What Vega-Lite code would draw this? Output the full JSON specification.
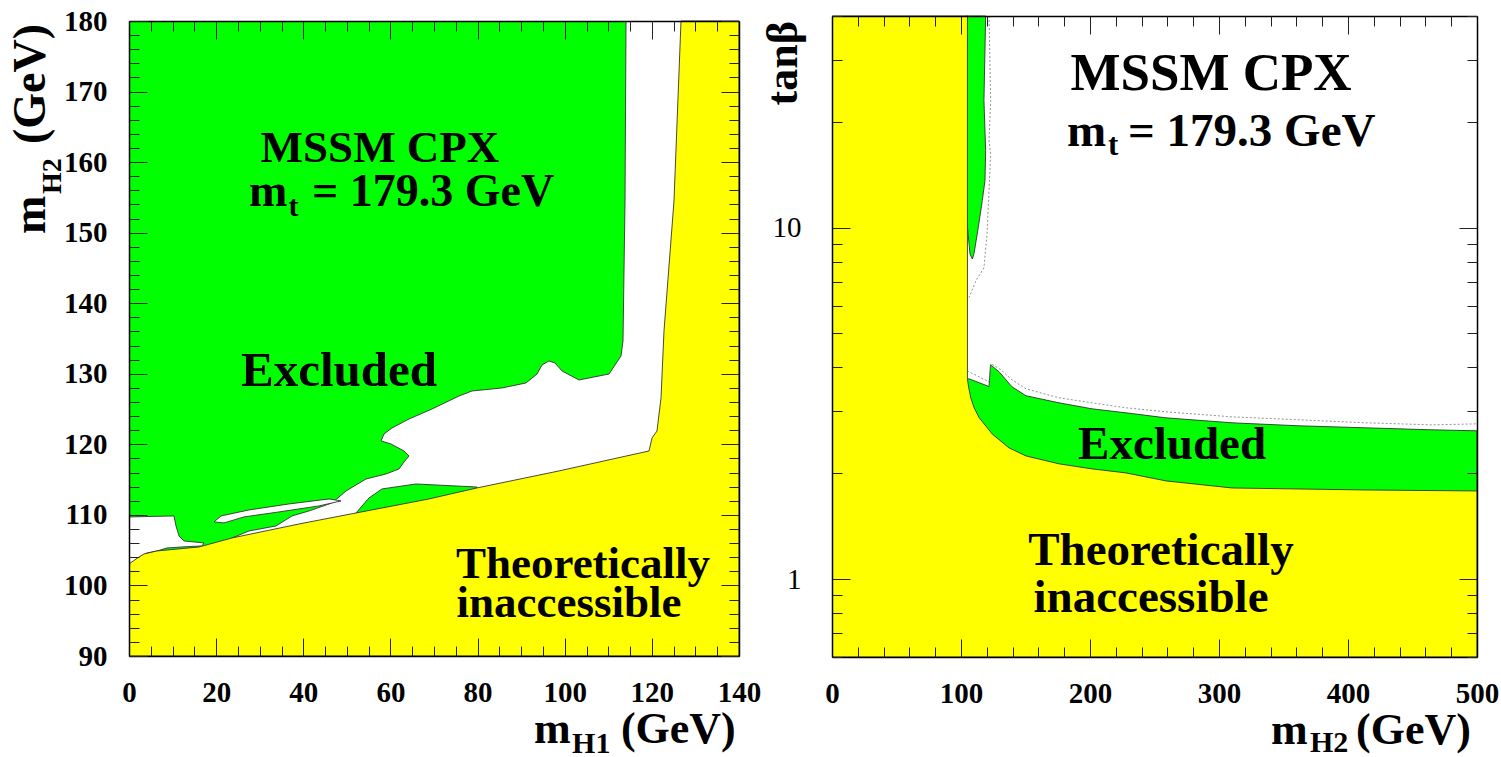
{
  "$schema": "https://vega.github.io/schema/vega-lite/v6.json",
  "padding": {"left": 7, "top": 7, "right": 5, "bottom": 5},
  "bounds": "flush",
  "spacing": 93,
  "background": "white",
  "config": {"view": {"stroke": null}, "axis": {"zindex": 1, "grid": false}, "text": {"font": "Liberation Serif"}},
  "datasets": {
    "L": [
      {"p":"G","i":0,"x":0,"y":90},{"p":"G","i":1,"x":140,"y":90},{"p":"G","i":2,"x":140,"y":180},{"p":"G","i":3,"x":0,"y":180},
      {"p":"W","i":0,"x":114.07,"y":180},{"p":"W","i":1,"x":113.84,"y":154.49},{"p":"W","i":2,"x":113.38,"y":134.65},{"p":"W","i":3,"x":112.92,"y":132.52},{"p":"W","i":4,"x":110.17,"y":129.97},{"p":"W","i":5,"x":103.28,"y":129.12},{"p":"W","i":6,"x":99.38,"y":130.4},{"p":"W","i":7,"x":97.77,"y":131.53},{"p":"W","i":8,"x":96.39,"y":131.82},{"p":"W","i":9,"x":94.79,"y":131.25},{"p":"W","i":10,"x":93.64,"y":129.97},{"p":"W","i":11,"x":91.12,"y":128.7},{"p":"W","i":12,"x":85.61,"y":127.99},{"p":"W","i":13,"x":78.72,"y":127.56},{"p":"W","i":14,"x":75.74,"y":126.85},{"p":"W","i":15,"x":69.54,"y":125.01},{"p":"W","i":16,"x":64.26,"y":123.59},{"p":"W","i":17,"x":60.36,"y":122.32},{"p":"W","i":18,"x":58.53,"y":121.47},{"p":"W","i":19,"x":57.84,"y":120.48},{"p":"W","i":20,"x":60.13,"y":120.05},{"p":"W","i":21,"x":63.12,"y":119.06},{"p":"W","i":22,"x":64.26,"y":118.35},{"p":"W","i":23,"x":63.12,"y":117.5},{"p":"W","i":24,"x":61.97,"y":116.51},{"p":"W","i":25,"x":58.99,"y":115.8},{"p":"W","i":26,"x":54.4,"y":115.09},{"p":"W","i":27,"x":49.8,"y":113.39},{"p":"W","i":28,"x":46.59,"y":111.69},{"p":"W","i":29,"x":41.31,"y":110.56},{"p":"W","i":30,"x":37.41,"y":109.85},{"p":"W","i":31,"x":33.74,"y":108.43},{"p":"W","i":32,"x":27.54,"y":107.72},{"p":"W","i":33,"x":23.64,"y":106.73},{"p":"W","i":34,"x":20.66,"y":105.45},{"p":"W","i":35,"x":20.66,"y":96},{"p":"W","i":36,"x":135,"y":96},{"p":"W","i":37,"x":135,"y":180},
      {"p":"WL","i":0,"x":0,"y":109.71},{"p":"WL","i":1,"x":10.33,"y":109.85},{"p":"WL","i":2,"x":10.79,"y":108.43},{"p":"WL","i":3,"x":11.48,"y":107.02},{"p":"WL","i":4,"x":12.62,"y":106.31},{"p":"WL","i":5,"x":17.21,"y":106.02},{"p":"WL","i":6,"x":16.75,"y":105.6},{"p":"WL","i":7,"x":11.93,"y":105.45},{"p":"WL","i":8,"x":8.72,"y":105.31},{"p":"WL","i":9,"x":6.43,"y":104.89},{"p":"WL","i":10,"x":4.13,"y":104.6},{"p":"WL","i":11,"x":2.98,"y":104.18},{"p":"WL","i":12,"x":0,"y":102.76},
      {"p":"E","i":0,"x":19.51,"y":109.0},{"p":"E","i":1,"x":21.12,"y":109.85},{"p":"E","i":2,"x":27.54,"y":110.7},{"p":"E","i":3,"x":36.72,"y":111.55},{"p":"E","i":4,"x":45.9,"y":112.26},{"p":"E","i":5,"x":48.66,"y":111.98},{"p":"E","i":6,"x":43.61,"y":111.27},{"p":"E","i":7,"x":34.43,"y":110.42},{"p":"E","i":8,"x":26.39,"y":109.71},{"p":"E","i":9,"x":21.8,"y":108.86},{"p":"E","i":10,"x":19.51,"y":109.0},
      {"p":"GS","i":0,"x":52.1,"y":110.27},{"p":"GS","i":1,"x":55.08,"y":112.4},{"p":"GS","i":2,"x":58.07,"y":113.68},{"p":"GS","i":3,"x":65.87,"y":114.38},{"p":"GS","i":4,"x":79.87,"y":113.95},{"p":"GS","i":5,"x":79.87,"y":113.0},{"p":"GS","i":6,"x":52.1,"y":109.5},
      {"p":"Y","i":0,"x":0,"y":103.04},{"p":"Y","i":1,"x":2.3,"y":104.04},{"p":"Y","i":2,"x":3.44,"y":104.46},{"p":"Y","i":3,"x":6.43,"y":104.89},{"p":"Y","i":4,"x":16.07,"y":105.45},{"p":"Y","i":5,"x":23.64,"y":106.73},{"p":"Y","i":6,"x":39.02,"y":108.71},{"p":"Y","i":7,"x":52.1,"y":110.27},{"p":"Y","i":8,"x":68.85,"y":112.26},{"p":"Y","i":9,"x":79.87,"y":113.82},{"p":"Y","i":10,"x":98.69,"y":116.23},{"p":"Y","i":11,"x":119.35,"y":119.06},{"p":"Y","i":12,"x":120.04,"y":120.9},{"p":"Y","i":13,"x":121.18,"y":121.89},{"p":"Y","i":14,"x":122.1,"y":126.57},{"p":"Y","i":15,"x":122.79,"y":136.07},{"p":"Y","i":16,"x":125.08,"y":154.49},{"p":"Y","i":17,"x":126.69,"y":180},{"p":"Y","i":18,"x":140,"y":180},{"p":"Y","i":19,"x":140,"y":90},{"p":"Y","i":20,"x":0,"y":90}
    ],
    "R": [
      {"p":"GB","i":0,"x":104,"y":3.713},{"p":"GB","i":1,"x":106.2,"y":3.713},{"p":"GB","i":2,"x":120.2,"y":3.548},{"p":"GB","i":3,"x":121.7,"y":3.524},{"p":"GB","i":4,"x":122.9,"y":4.072},{"p":"GB","i":5,"x":129.5,"y":3.889},{"p":"GB","i":6,"x":139.5,"y":3.524},{"p":"GB","i":7,"x":150.4,"y":3.322},{"p":"GB","i":8,"x":176.0,"y":3.172},{"p":"GB","i":9,"x":201.6,"y":3.05},{"p":"GB","i":10,"x":227.9,"y":2.971},{"p":"GB","i":11,"x":258.9,"y":2.875},{"p":"GB","i":12,"x":310.1,"y":2.783},{"p":"GB","i":13,"x":362.0,"y":2.729},{"p":"GB","i":14,"x":414.0,"y":2.693},{"p":"GB","i":15,"x":465.1,"y":2.658},{"p":"GB","i":16,"x":500,"y":2.641},{"p":"GB","i":17,"x":500,"y":1.5},{"p":"GB","i":18,"x":104,"y":1.5},
      {"p":"GV","i":0,"x":104,"y":40},{"p":"GV","i":1,"x":119.1,"y":40},{"p":"GV","i":2,"x":117.8,"y":23.0},{"p":"GV","i":3,"x":119.1,"y":16.58},{"p":"GV","i":4,"x":118.6,"y":13.61},{"p":"GV","i":5,"x":116.5,"y":11.94},{"p":"GV","i":6,"x":113.4,"y":10.02},{"p":"GV","i":7,"x":110.1,"y":8.43},{"p":"GV","i":8,"x":108.8,"y":8.14},{"p":"GV","i":9,"x":107.0,"y":8.4},{"p":"GV","i":10,"x":105.5,"y":9.6},{"p":"GV","i":11,"x":104,"y":11},
      {"p":"D1","i":0,"x":121.7,"y":40},{"p":"D1","i":1,"x":123.0,"y":23.0},{"p":"D1","i":2,"x":121.7,"y":17.7},{"p":"D1","i":3,"x":123.0,"y":16.25},{"p":"D1","i":4,"x":120.2,"y":9.61},{"p":"D1","i":5,"x":117.8,"y":7.69},{"p":"D1","i":6,"x":111.6,"y":7.06},{"p":"D1","i":7,"x":106.2,"y":6.32},
      {"p":"D2","i":0,"x":104.7,"y":3.914},{"p":"D2","i":1,"x":121.7,"y":3.641},{"p":"D2","i":2,"x":123.3,"y":4.098},{"p":"D2","i":3,"x":131.0,"y":3.939},{"p":"D2","i":4,"x":139.5,"y":3.689},{"p":"D2","i":5,"x":150.4,"y":3.477},{"p":"D2","i":6,"x":176.0,"y":3.279},{"p":"D2","i":7,"x":201.6,"y":3.172},{"p":"D2","i":8,"x":227.9,"y":3.071},{"p":"D2","i":9,"x":258.9,"y":2.991},{"p":"D2","i":10,"x":310.1,"y":2.894},{"p":"D2","i":11,"x":362.0,"y":2.838},{"p":"D2","i":12,"x":414.0,"y":2.783},{"p":"D2","i":13,"x":465.1,"y":2.746},{"p":"D2","i":14,"x":500,"y":2.764},
      {"p":"Y","i":0,"x":0,"y":40},{"p":"Y","i":1,"x":105,"y":40},{"p":"Y","i":2,"x":105,"y":3.7},{"p":"Y","i":3,"x":106,"y":3.5},{"p":"Y","i":4,"x":107.5,"y":3.285},{"p":"Y","i":5,"x":110.1,"y":3.076},{"p":"Y","i":6,"x":114,"y":2.881},{"p":"Y","i":7,"x":124.3,"y":2.584},{"p":"Y","i":8,"x":137.2,"y":2.362},{"p":"Y","i":9,"x":150.4,"y":2.24},{"p":"Y","i":10,"x":176,"y":2.127},{"p":"Y","i":11,"x":201.6,"y":2.058},{"p":"Y","i":12,"x":227.9,"y":2.004},{"p":"Y","i":13,"x":258.9,"y":1.902},{"p":"Y","i":14,"x":310.1,"y":1.816},{"p":"Y","i":15,"x":362,"y":1.804},{"p":"Y","i":16,"x":414,"y":1.792},{"p":"Y","i":17,"x":500,"y":1.781},{"p":"Y","i":18,"x":500,"y":0.6},{"p":"Y","i":19,"x":0,"y":0.6}
    ]
  },
  "hconcat": [
    {
      "width": 610,
      "height": 640,
      "resolve": {"axis": {"x": "independent", "y": "independent"}},
      "layer": [
        {
          "data": {"name": "L"},
          "transform": [{"filter": "datum.p === 'G'"}],
          "mark": {"type": "line", "filled": true, "fill": "#00ff00", "strokeWidth": 0},
          "encoding": {
            "x": {"field": "x", "type": "quantitative", "scale": {"domain": [0, 140], "nice": false, "zero": false},
              "axis": {"orient": "bottom", "zindex": 2, "values": [0, 20, 40, 60, 80, 100, 120, 140], "ticks": false, "domain": true, "domainColor": "#000000", "domainWidth": 1.5, "labelFont": "Liberation Serif", "labelFontWeight": "bold", "labelFontSize": 29, "labelColor": "#000000", "labelPadding": 22, "labelFlush": false, "labelOverlap": false, "title": null}},
            "y": {"field": "y", "type": "quantitative", "scale": {"domain": [90, 180], "range": [640, 5], "nice": false, "zero": false},
              "axis": {"orient": "left", "zindex": 2, "values": [90, 100, 110, 120, 130, 140, 150, 160, 170, 180], "ticks": false, "domain": true, "domainColor": "#000000", "domainWidth": 1.5, "labelFont": "Liberation Serif", "labelFontWeight": "bold", "labelFontSize": 29, "labelColor": "#000000", "labelPadding": 22, "labelFlush": false, "labelOverlap": false, "title": null}},
            "order": {"field": "i", "type": "quantitative"}
          }
        },
        {
          "data": {"name": "L"},
          "transform": [{"filter": "datum.p === 'W'"}],
          "mark": {"type": "line", "filled": true, "fill": "#ffffff", "stroke": "#333333", "strokeWidth": 0.9, "strokeJoin": "round"},
          "encoding": {
            "x": {"field": "x", "type": "quantitative", "scale": {"domain": [0, 140], "nice": false, "zero": false},
              "axis": {"orient": "bottom", "zindex": 2, "values": [0, 20, 40, 60, 80, 100, 120, 140], "labels": false, "domain": false, "ticks": true, "tickSize": -18, "tickColor": "#222222", "tickWidth": 1, "title": null}},
            "y": {"field": "y", "type": "quantitative", "scale": {"domain": [90, 180], "range": [640, 5], "nice": false, "zero": false},
              "axis": {"orient": "left", "zindex": 2, "values": [90, 100, 110, 120, 130, 140, 150, 160, 170, 180], "labels": false, "domain": false, "ticks": true, "tickSize": -18, "tickColor": "#222222", "tickWidth": 1, "title": null}},
            "order": {"field": "i", "type": "quantitative"}
          }
        },
        {
          "data": {"name": "L"},
          "transform": [{"filter": "datum.p === 'WL'"}],
          "mark": {"type": "line", "filled": true, "fill": "#ffffff", "stroke": "#333333", "strokeWidth": 0.9, "strokeJoin": "round"},
          "encoding": {
            "x": {"field": "x", "type": "quantitative", "scale": {"domain": [0, 140], "nice": false, "zero": false},
              "axis": {"orient": "bottom", "zindex": 2, "values": [5, 10, 15, 25, 30, 35, 45, 50, 55, 65, 70, 75, 85, 90, 95, 105, 110, 115, 125, 130, 135], "labels": false, "domain": false, "ticks": true, "tickSize": -10, "tickColor": "#222222", "tickWidth": 1, "title": null}},
            "y": {"field": "y", "type": "quantitative", "scale": {"domain": [90, 180], "range": [640, 5], "nice": false, "zero": false},
              "axis": {"orient": "left", "zindex": 2, "values": [92, 94, 96, 98, 102, 104, 106, 108, 112, 114, 116, 118, 122, 124, 126, 128, 132, 134, 136, 138, 142, 144, 146, 148, 152, 154, 156, 158, 162, 164, 166, 168, 172, 174, 176, 178], "labels": false, "domain": false, "ticks": true, "tickSize": -10, "tickColor": "#222222", "tickWidth": 1, "title": null}},
            "order": {"field": "i", "type": "quantitative"}
          }
        },
        {
          "data": {"name": "L"},
          "transform": [{"filter": "datum.p === 'E'"}],
          "mark": {"type": "line", "filled": true, "fill": "#ffffff", "stroke": "#333333", "strokeWidth": 0.9, "strokeJoin": "round"},
          "encoding": {
            "x": {"field": "x", "type": "quantitative", "scale": {"domain": [0, 140], "nice": false, "zero": false},
              "axis": {"orient": "top", "zindex": 2, "offset": -5, "values": [0, 20, 40, 60, 80, 100, 120, 140], "labels": false, "domain": true, "domainColor": "#000000", "domainWidth": 1.5, "ticks": true, "tickSize": -18, "tickColor": "#222222", "tickWidth": 1, "title": null}},
            "y": {"field": "y", "type": "quantitative", "scale": {"domain": [90, 180], "range": [640, 5], "nice": false, "zero": false},
              "axis": {"orient": "right", "zindex": 2, "values": [90, 100, 110, 120, 130, 140, 150, 160, 170, 180], "labels": false, "domain": true, "domainColor": "#000000", "domainWidth": 1.5, "ticks": true, "tickSize": -18, "tickColor": "#222222", "tickWidth": 1, "title": null}},
            "order": {"field": "i", "type": "quantitative"}
          }
        },
        {
          "data": {"name": "L"},
          "transform": [{"filter": "datum.p === 'GS'"}],
          "mark": {"type": "line", "filled": true, "fill": "#00ff00", "stroke": "#333333", "strokeWidth": 0.9, "strokeJoin": "round"},
          "encoding": {
            "x": {"field": "x", "type": "quantitative", "scale": {"domain": [0, 140], "nice": false, "zero": false},
              "axis": {"orient": "top", "zindex": 2, "offset": -5, "values": [5, 10, 15, 25, 30, 35, 45, 50, 55, 65, 70, 75, 85, 90, 95, 105, 110, 115, 125, 130, 135], "labels": false, "domain": false, "ticks": true, "tickSize": -10, "tickColor": "#222222", "tickWidth": 1, "title": null}},
            "y": {"field": "y", "type": "quantitative", "scale": {"domain": [90, 180], "range": [640, 5], "nice": false, "zero": false},
              "axis": {"orient": "right", "zindex": 2, "values": [92, 94, 96, 98, 102, 104, 106, 108, 112, 114, 116, 118, 122, 124, 126, 128, 132, 134, 136, 138, 142, 144, 146, 148, 152, 154, 156, 158, 162, 164, 166, 168, 172, 174, 176, 178], "labels": false, "domain": false, "ticks": true, "tickSize": -10, "tickColor": "#222222", "tickWidth": 1, "title": null}},
            "order": {"field": "i", "type": "quantitative"}
          }
        },
        {
          "data": {"name": "L"},
          "transform": [{"filter": "datum.p === 'Y'"}],
          "mark": {"type": "line", "filled": true, "fill": "#ffff00", "stroke": "#333333", "strokeWidth": 0.9, "strokeJoin": "round"},
          "encoding": {
            "x": {"field": "x", "type": "quantitative", "scale": {"domain": [0, 140], "nice": false, "zero": false}, "axis": null},
            "y": {"field": "y", "type": "quantitative", "scale": {"domain": [90, 180], "range": [640, 5], "nice": false, "zero": false}, "axis": null},
            "order": {"field": "i", "type": "quantitative"}
          }
        },
        {
          "data": {"values": [{"t": "MSSM CPX", "x": 57.6, "y": 160.02}, {"t": "Theoretically", "x": 104.2, "y": 101.06}, {"t": "inaccessible", "x": 101.0, "y": 95.53}]},
          "mark": {"type": "text", "font": "Liberation Serif", "fontWeight": "bold", "fontSize": 45, "align": "center", "baseline": "alphabetic", "color": "#000000"},
          "encoding": {"x": {"field": "x", "type": "quantitative", "axis": null}, "y": {"field": "y", "type": "quantitative", "axis": null}, "text": {"field": "t"}}
        },
        {
          "data": {"values": [{"t": "Excluded", "x": 48.2, "y": 128.27}]},
          "mark": {"type": "text", "font": "Liberation Serif", "fontWeight": "bold", "fontSize": 49, "align": "center", "baseline": "alphabetic", "color": "#000000"},
          "encoding": {"x": {"field": "x", "type": "quantitative", "axis": null}, "y": {"field": "y", "type": "quantitative", "axis": null}, "text": {"field": "t"}}
        },
        {
          "data": {"values": [{"t": "m", "x": 27.54, "y": 153.78}, {"t": "= 179.3 GeV", "x": 42.0, "y": 153.78}]},
          "mark": {"type": "text", "font": "Liberation Serif", "fontWeight": "bold", "fontSize": 46, "align": "left", "baseline": "alphabetic", "color": "#000000"},
          "encoding": {"x": {"field": "x", "type": "quantitative", "axis": null}, "y": {"field": "y", "type": "quantitative", "axis": null}, "text": {"field": "t"}}
        },
        {
          "data": {"values": [{"t": "t", "x": 36.6, "y": 152.4}]},
          "mark": {"type": "text", "font": "Liberation Serif", "fontWeight": "bold", "fontSize": 30, "align": "left", "baseline": "alphabetic", "color": "#000000"},
          "encoding": {"x": {"field": "x", "type": "quantitative", "axis": null}, "y": {"field": "y", "type": "quantitative", "axis": null}, "text": {"field": "t"}}
        },
        {
          "data": {"values": [{"t": "m", "x": 92.95, "y": 77.68}, {"t": "(GeV)", "x": 112.9, "y": 77.68}]},
          "mark": {"type": "text", "font": "Liberation Serif", "fontWeight": "bold", "fontSize": 44, "align": "left", "baseline": "alphabetic", "color": "#000000"},
          "encoding": {"x": {"field": "x", "type": "quantitative", "axis": null}, "y": {"field": "y", "type": "quantitative", "axis": null}, "text": {"field": "t"}}
        },
        {
          "data": {"values": [{"t": "H1", "x": 101.7, "y": 76.26}]},
          "mark": {"type": "text", "font": "Liberation Serif", "fontWeight": "bold", "fontSize": 30, "align": "left", "baseline": "alphabetic", "color": "#000000"},
          "encoding": {"x": {"field": "x", "type": "quantitative", "axis": null}, "y": {"field": "y", "type": "quantitative", "axis": null}, "text": {"field": "t"}}
        },
        {
          "data": {"values": [{"t": "m", "x": -19.28, "y": 149.81}, {"t": "(GeV)", "x": -19.28, "y": 162.57}]},
          "mark": {"type": "text", "font": "Liberation Serif", "fontWeight": "bold", "fontSize": 46, "align": "left", "baseline": "alphabetic", "angle": 270, "color": "#000000"},
          "encoding": {"x": {"field": "x", "type": "quantitative", "axis": null}, "y": {"field": "y", "type": "quantitative", "axis": null}, "text": {"field": "t"}}
        },
        {
          "data": {"values": [{"t": "H2", "x": -15.6, "y": 155.48}]},
          "mark": {"type": "text", "font": "Liberation Serif", "fontWeight": "bold", "fontSize": 28, "align": "left", "baseline": "alphabetic", "angle": 270, "color": "#000000"},
          "encoding": {"x": {"field": "x", "type": "quantitative", "axis": null}, "y": {"field": "y", "type": "quantitative", "axis": null}, "text": {"field": "t"}}
        }
      ]
    },
    {
      "width": 645,
      "height": 641,
      "resolve": {"axis": {"x": "independent", "y": "independent"}},
      "layer": [
        {
          "data": {"name": "R"},
          "transform": [{"filter": "datum.p === 'GB'"}],
          "mark": {"type": "line", "filled": true, "fill": "#00ff00", "stroke": "#333333", "strokeWidth": 0.9, "strokeJoin": "round"},
          "encoding": {
            "x": {"field": "x", "type": "quantitative", "scale": {"domain": [0, 500], "nice": false, "zero": false},
              "axis": {"orient": "bottom", "zindex": 2, "values": [0, 100, 200, 300, 400, 500], "ticks": false, "domain": true, "domainColor": "#000000", "domainWidth": 1.5, "labelFont": "Liberation Serif", "labelFontWeight": "bold", "labelFontSize": 29, "labelColor": "#000000", "labelPadding": 22, "labelFlush": false, "labelOverlap": false, "title": null}},
            "y": {"field": "y", "type": "quantitative", "scale": {"type": "log", "domain": [0.6, 40], "nice": false},
              "axis": {"orient": "left", "zindex": 2, "values": [1, 10], "ticks": false, "domain": true, "domainColor": "#000000", "domainWidth": 1.5, "labelFont": "Liberation Serif", "labelFontWeight": "normal", "labelFontSize": 29, "labelColor": "#000000", "labelPadding": 31, "labelFlush": false, "labelOverlap": false, "title": null}},
            "order": {"field": "i", "type": "quantitative"}
          }
        },
        {
          "data": {"name": "R"},
          "transform": [{"filter": "datum.p === 'GV'"}],
          "mark": {"type": "line", "filled": true, "fill": "#00ff00", "stroke": "#333333", "strokeWidth": 0.9, "strokeJoin": "round"},
          "encoding": {
            "x": {"field": "x", "type": "quantitative", "scale": {"domain": [0, 500], "nice": false, "zero": false},
              "axis": {"orient": "bottom", "zindex": 2, "values": [0, 100, 200, 300, 400, 500], "labels": false, "domain": false, "ticks": true, "tickSize": -18, "tickColor": "#222222", "tickWidth": 1, "title": null}},
            "y": {"field": "y", "type": "quantitative", "scale": {"type": "log", "domain": [0.6, 40], "nice": false},
              "axis": {"orient": "left", "zindex": 2, "values": [1, 10], "labels": false, "domain": false, "ticks": true, "tickSize": -18, "tickColor": "#222222", "tickWidth": 1, "title": null}},
            "order": {"field": "i", "type": "quantitative"}
          }
        },
        {
          "data": {"name": "R"},
          "transform": [{"filter": "datum.p === 'D1' || datum.p === 'D2'"}],
          "mark": {"type": "line", "stroke": "#777777", "strokeWidth": 0.8, "strokeDash": [2, 2]},
          "encoding": {
            "x": {"field": "x", "type": "quantitative", "scale": {"domain": [0, 500], "nice": false, "zero": false},
              "axis": {"orient": "bottom", "zindex": 2, "values": [20, 40, 60, 80, 120, 140, 160, 180, 220, 240, 260, 280, 320, 340, 360, 380, 420, 440, 460, 480], "labels": false, "domain": false, "ticks": true, "tickSize": -10, "tickColor": "#222222", "tickWidth": 1, "title": null}},
            "y": {"field": "y", "type": "quantitative", "scale": {"type": "log", "domain": [0.6, 40], "nice": false},
              "axis": {"orient": "left", "zindex": 2, "values": [0.6, 0.7, 0.8, 0.9, 2, 3, 4, 5, 6, 7, 8, 9, 20, 30, 40], "labels": false, "domain": false, "ticks": true, "tickSize": -10, "tickColor": "#222222", "tickWidth": 1, "title": null}},
            "detail": {"field": "p"},
            "order": {"field": "i", "type": "quantitative"}
          }
        },
        {
          "data": {"name": "R"},
          "transform": [{"filter": "datum.p === 'Y'"}],
          "mark": {"type": "line", "filled": true, "fill": "#ffff00", "stroke": "#333333", "strokeWidth": 0.9, "strokeJoin": "round"},
          "encoding": {
            "x": {"field": "x", "type": "quantitative", "scale": {"domain": [0, 500], "nice": false, "zero": false},
              "axis": {"orient": "top", "zindex": 2, "values": [0, 100, 200, 300, 400, 500], "labels": false, "domain": true, "domainColor": "#000000", "domainWidth": 1.5, "ticks": true, "tickSize": -18, "tickColor": "#222222", "tickWidth": 1, "title": null}},
            "y": {"field": "y", "type": "quantitative", "scale": {"type": "log", "domain": [0.6, 40], "nice": false},
              "axis": {"orient": "right", "zindex": 2, "values": [1, 10], "labels": false, "domain": true, "domainColor": "#000000", "domainWidth": 1.5, "ticks": true, "tickSize": -18, "tickColor": "#222222", "tickWidth": 1, "title": null}},
            "order": {"field": "i", "type": "quantitative"}
          }
        },
        {
          "data": {"values": [{"t": "MSSM CPX", "x": 293.8, "y": 24.57}]},
          "mark": {"type": "text", "font": "Liberation Serif", "fontWeight": "bold", "fontSize": 53, "align": "center", "baseline": "alphabetic", "color": "#000000"},
          "encoding": {
            "x": {"field": "x", "type": "quantitative", "scale": {"domain": [0, 500], "nice": false, "zero": false},
              "axis": {"orient": "top", "zindex": 2, "values": [20, 40, 60, 80, 120, 140, 160, 180, 220, 240, 260, 280, 320, 340, 360, 380, 420, 440, 460, 480], "labels": false, "domain": false, "ticks": true, "tickSize": -10, "tickColor": "#222222", "tickWidth": 1, "title": null}},
            "y": {"field": "y", "type": "quantitative", "scale": {"type": "log", "domain": [0.6, 40], "nice": false},
              "axis": {"orient": "right", "zindex": 2, "values": [0.6, 0.7, 0.8, 0.9, 2, 3, 4, 5, 6, 7, 8, 9, 20, 30, 40], "labels": false, "domain": false, "ticks": true, "tickSize": -10, "tickColor": "#222222", "tickWidth": 1, "title": null}},
            "text": {"field": "t"}
          }
        },
        {
          "data": {"values": [{"t": "Excluded", "x": 263.6, "y": 2.197}, {"t": "Theoretically", "x": 255.0, "y": 1.096}, {"t": "inaccessible", "x": 247.3, "y": 0.805}]},
          "mark": {"type": "text", "font": "Liberation Serif", "fontWeight": "bold", "fontSize": 47, "align": "center", "baseline": "alphabetic", "color": "#000000"},
          "encoding": {"x": {"field": "x", "type": "quantitative", "axis": null}, "y": {"field": "y", "type": "quantitative", "axis": null}, "text": {"field": "t"}}
        },
        {
          "data": {"values": [{"t": "m", "x": 182.2, "y": 17.12}, {"t": "= 179.3 GeV", "x": 229.5, "y": 17.12}]},
          "mark": {"type": "text", "font": "Liberation Serif", "fontWeight": "bold", "fontSize": 47, "align": "left", "baseline": "alphabetic", "color": "#000000"},
          "encoding": {"x": {"field": "x", "type": "quantitative", "axis": null}, "y": {"field": "y", "type": "quantitative", "axis": null}, "text": {"field": "t"}}
        },
        {
          "data": {"values": [{"t": "t", "x": 214.0, "y": 16.04}]},
          "mark": {"type": "text", "font": "Liberation Serif", "fontWeight": "bold", "fontSize": 31, "align": "left", "baseline": "alphabetic", "color": "#000000"},
          "encoding": {"x": {"field": "x", "type": "quantitative", "axis": null}, "y": {"field": "y", "type": "quantitative", "axis": null}, "text": {"field": "t"}}
        },
        {
          "data": {"values": [{"t": "m", "x": 340.3, "y": 0.3388}, {"t": "(GeV)", "x": 406.2, "y": 0.3388}]},
          "mark": {"type": "text", "font": "Liberation Serif", "fontWeight": "bold", "fontSize": 44, "align": "left", "baseline": "alphabetic", "color": "#000000"},
          "encoding": {"x": {"field": "x", "type": "quantitative", "axis": null}, "y": {"field": "y", "type": "quantitative", "axis": null}, "text": {"field": "t"}}
        },
        {
          "data": {"values": [{"t": "H2", "x": 370.5, "y": 0.3214}]},
          "mark": {"type": "text", "font": "Liberation Serif", "fontWeight": "bold", "fontSize": 30, "align": "left", "baseline": "alphabetic", "color": "#000000"},
          "encoding": {"x": {"field": "x", "type": "quantitative", "axis": null}, "y": {"field": "y", "type": "quantitative", "axis": null}, "text": {"field": "t"}}
        },
        {
          "data": {"values": [{"t": "tanβ", "x": -27.1, "y": 22.27}]},
          "mark": {"type": "text", "font": "Liberation Serif", "fontWeight": "bold", "fontSize": 44, "align": "left", "baseline": "alphabetic", "angle": 270, "color": "#000000"},
          "encoding": {"x": {"field": "x", "type": "quantitative", "axis": null}, "y": {"field": "y", "type": "quantitative", "axis": null}, "text": {"field": "t"}}
        }
      ]
    }
  ]
}
